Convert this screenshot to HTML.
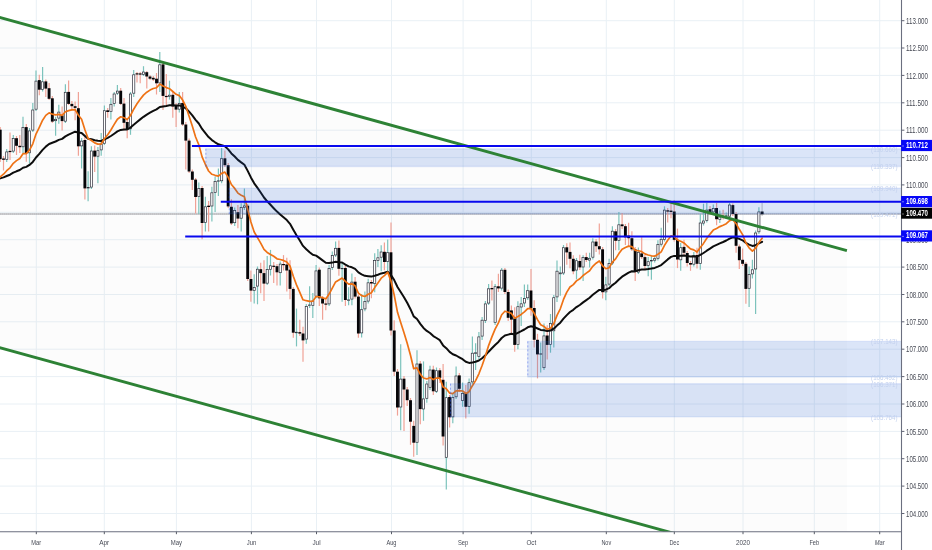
<!DOCTYPE html>
<html><head><meta charset="utf-8"><title>USDJPY chart</title>
<style>html,body{margin:0;padding:0;background:#fff;overflow:hidden}svg{display:block;will-change:transform}</style></head>
<body>
<svg width="932" height="550" viewBox="0 0 932 550" font-family="'Liberation Sans', sans-serif">
<rect width="932" height="550" fill="#fff"/>
<defs><clipPath id="pane"><rect x="0" y="0" width="901.5" height="531.7"/></clipPath></defs>
<g clip-path="url(#pane)">
<g stroke="#e9f0f5" stroke-width="1" shape-rendering="auto">
<line x1="0" y1="20.7" x2="901.5" y2="20.7"/>
<line x1="0" y1="48.0" x2="901.5" y2="48.0"/>
<line x1="0" y1="75.4" x2="901.5" y2="75.4"/>
<line x1="0" y1="102.8" x2="901.5" y2="102.8"/>
<line x1="0" y1="130.2" x2="901.5" y2="130.2"/>
<line x1="0" y1="157.6" x2="901.5" y2="157.6"/>
<line x1="0" y1="184.9" x2="901.5" y2="184.9"/>
<line x1="0" y1="212.3" x2="901.5" y2="212.3"/>
<line x1="0" y1="239.7" x2="901.5" y2="239.7"/>
<line x1="0" y1="267.1" x2="901.5" y2="267.1"/>
<line x1="0" y1="294.5" x2="901.5" y2="294.5"/>
<line x1="0" y1="321.8" x2="901.5" y2="321.8"/>
<line x1="0" y1="349.2" x2="901.5" y2="349.2"/>
<line x1="0" y1="376.6" x2="901.5" y2="376.6"/>
<line x1="0" y1="404.0" x2="901.5" y2="404.0"/>
<line x1="0" y1="431.4" x2="901.5" y2="431.4"/>
<line x1="0" y1="458.7" x2="901.5" y2="458.7"/>
<line x1="0" y1="486.1" x2="901.5" y2="486.1"/>
<line x1="0" y1="513.5" x2="901.5" y2="513.5"/>
<line x1="36.3" y1="0" x2="36.3" y2="531.7"/>
<line x1="104.3" y1="0" x2="104.3" y2="531.7"/>
<line x1="176.4" y1="0" x2="176.4" y2="531.7"/>
<line x1="251.4" y1="0" x2="251.4" y2="531.7"/>
<line x1="316.5" y1="0" x2="316.5" y2="531.7"/>
<line x1="391.5" y1="0" x2="391.5" y2="531.7"/>
<line x1="463.1" y1="0" x2="463.1" y2="531.7"/>
<line x1="531.3" y1="0" x2="531.3" y2="531.7"/>
<line x1="606.3" y1="0" x2="606.3" y2="531.7"/>
<line x1="674.3" y1="0" x2="674.3" y2="531.7"/>
<line x1="743.0" y1="0" x2="743.0" y2="531.7"/>
<line x1="814.3" y1="0" x2="814.3" y2="531.7"/>
<line x1="879.7" y1="0" x2="879.7" y2="531.7"/>
</g>
<polygon points="0,17.4 846.9,250.7 846.9,581.0 0,347.7" fill="rgba(120,120,120,0.024)"/>
<line x1="0" y1="214.0" x2="901.5" y2="214.0" stroke="#bdbdc1" stroke-width="1.6"/>
<line x1="0" y1="214.0" x2="901.5" y2="214.0" stroke="#9a9a9e" stroke-width="1.2" stroke-dasharray="1 1" opacity="0.35"/>
<g><line x1="0.2" y1="127.0" x2="0.2" y2="162.0" stroke="#f0a296" stroke-width="1.2"/><rect x="-1.22" y="129.7" width="2.9" height="29.5" fill="#050508"/><line x1="3.5" y1="156.0" x2="3.5" y2="170.5" stroke="#f0a296" stroke-width="1.2"/><rect x="2.04" y="158.5" width="2.9" height="1.3" fill="#050508"/><line x1="6.7" y1="149.0" x2="6.7" y2="162.0" stroke="#7cc3bc" stroke-width="1.2"/><rect x="5.67" y="151.9" width="2.16" height="7.7" fill="#fff" stroke="#2e2e3a" stroke-width="0.7"/><line x1="10.0" y1="132.6" x2="10.0" y2="160.0" stroke="#f0a296" stroke-width="1.2"/><rect x="8.55" y="150.9" width="2.9" height="1.2" fill="#050508"/><line x1="13.3" y1="135.0" x2="13.3" y2="153.0" stroke="#7cc3bc" stroke-width="1.2"/><rect x="12.18" y="138.6" width="2.16" height="12.5" fill="#fff" stroke="#2e2e3a" stroke-width="0.7"/><line x1="16.5" y1="136.0" x2="16.5" y2="155.0" stroke="#f0a296" stroke-width="1.2"/><rect x="15.06" y="138.2" width="2.9" height="7.6" fill="#050508"/><line x1="19.8" y1="135.0" x2="19.8" y2="153.0" stroke="#f0a296" stroke-width="1.2"/><rect x="18.32" y="145.8" width="2.9" height="1.4" fill="#050508"/><line x1="23.0" y1="116.8" x2="23.0" y2="153.2" stroke="#7cc3bc" stroke-width="1.2"/><rect x="21.95" y="127.5" width="2.16" height="19.3" fill="#fff" stroke="#2e2e3a" stroke-width="0.7"/><line x1="26.3" y1="124.0" x2="26.3" y2="161.8" stroke="#f0a296" stroke-width="1.2"/><rect x="24.83" y="127.1" width="2.9" height="26.1" fill="#050508"/><line x1="29.5" y1="128.0" x2="29.5" y2="163.5" stroke="#7cc3bc" stroke-width="1.2"/><rect x="28.46" y="130.9" width="2.16" height="21.9" fill="#fff" stroke="#2e2e3a" stroke-width="0.7"/><line x1="32.8" y1="103.1" x2="32.8" y2="132.0" stroke="#7cc3bc" stroke-width="1.2"/><rect x="31.71" y="110.0" width="2.16" height="20.1" fill="#fff" stroke="#2e2e3a" stroke-width="0.7"/><line x1="36.0" y1="70.5" x2="36.0" y2="111.0" stroke="#7cc3bc" stroke-width="1.2"/><rect x="34.97" y="81.1" width="2.16" height="28.1" fill="#fff" stroke="#2e2e3a" stroke-width="0.7"/><line x1="39.3" y1="74.7" x2="39.3" y2="95.3" stroke="#f0a296" stroke-width="1.2"/><rect x="37.86" y="80.1" width="2.9" height="9.6" fill="#050508"/><line x1="42.6" y1="67.0" x2="42.6" y2="91.5" stroke="#7cc3bc" stroke-width="1.2"/><rect x="41.48" y="81.8" width="2.16" height="7.7" fill="#fff" stroke="#2e2e3a" stroke-width="0.7"/><line x1="45.8" y1="79.4" x2="45.8" y2="97.0" stroke="#f0a296" stroke-width="1.2"/><rect x="44.37" y="81.4" width="2.9" height="7.2" fill="#050508"/><line x1="49.1" y1="82.9" x2="49.1" y2="100.0" stroke="#f0a296" stroke-width="1.2"/><rect x="47.62" y="88.2" width="2.9" height="10.6" fill="#050508"/><line x1="52.3" y1="96.0" x2="52.3" y2="123.0" stroke="#f0a296" stroke-width="1.2"/><rect x="50.88" y="98.3" width="2.9" height="23.3" fill="#050508"/><line x1="55.6" y1="116.8" x2="55.6" y2="135.7" stroke="#7cc3bc" stroke-width="1.2"/><rect x="54.51" y="119.3" width="2.16" height="1.4" fill="#fff" stroke="#2e2e3a" stroke-width="0.7"/><line x1="58.8" y1="104.8" x2="58.8" y2="123.7" stroke="#7cc3bc" stroke-width="1.2"/><rect x="57.76" y="112.1" width="2.16" height="6.0" fill="#fff" stroke="#2e2e3a" stroke-width="0.7"/><line x1="62.1" y1="106.5" x2="62.1" y2="130.5" stroke="#f0a296" stroke-width="1.2"/><rect x="60.65" y="115.4" width="2.9" height="5.7" fill="#050508"/><line x1="65.4" y1="84.2" x2="65.4" y2="123.0" stroke="#7cc3bc" stroke-width="1.2"/><rect x="64.27" y="92.3" width="2.16" height="28.9" fill="#fff" stroke="#2e2e3a" stroke-width="0.7"/><line x1="68.6" y1="80.4" x2="68.6" y2="105.0" stroke="#f0a296" stroke-width="1.2"/><rect x="67.16" y="91.9" width="2.9" height="12.0" fill="#050508"/><line x1="71.9" y1="101.0" x2="71.9" y2="110.0" stroke="#f0a296" stroke-width="1.2"/><rect x="70.42" y="103.9" width="2.9" height="2.3" fill="#050508"/><line x1="75.1" y1="101.4" x2="75.1" y2="120.2" stroke="#f0a296" stroke-width="1.2"/><rect x="73.67" y="106.2" width="2.9" height="1.7" fill="#050508"/><line x1="78.4" y1="91.9" x2="78.4" y2="155.8" stroke="#f0a296" stroke-width="1.2"/><rect x="76.93" y="108.2" width="2.9" height="38.1" fill="#050508"/><line x1="81.6" y1="138.0" x2="81.6" y2="168.6" stroke="#7cc3bc" stroke-width="1.2"/><rect x="80.55" y="141.1" width="2.16" height="4.8" fill="#fff" stroke="#2e2e3a" stroke-width="0.7"/><line x1="84.9" y1="137.0" x2="84.9" y2="199.5" stroke="#f0a296" stroke-width="1.2"/><rect x="83.44" y="140.0" width="2.9" height="48.4" fill="#050508"/><line x1="88.1" y1="171.2" x2="88.1" y2="201.2" stroke="#7cc3bc" stroke-width="1.2"/><rect x="87.07" y="187.4" width="2.16" height="0.6" fill="#fff" stroke="#2e2e3a" stroke-width="0.7"/><line x1="91.4" y1="146.3" x2="91.4" y2="189.0" stroke="#7cc3bc" stroke-width="1.2"/><rect x="90.32" y="151.0" width="2.16" height="36.1" fill="#fff" stroke="#2e2e3a" stroke-width="0.7"/><line x1="94.7" y1="145.5" x2="94.7" y2="172.0" stroke="#f0a296" stroke-width="1.2"/><rect x="93.21" y="150.6" width="2.9" height="6.0" fill="#050508"/><line x1="97.9" y1="147.0" x2="97.9" y2="183.2" stroke="#7cc3bc" stroke-width="1.2"/><rect x="96.83" y="150.7" width="2.16" height="5.5" fill="#fff" stroke="#2e2e3a" stroke-width="0.7"/><line x1="101.2" y1="133.1" x2="101.2" y2="155.8" stroke="#7cc3bc" stroke-width="1.2"/><rect x="100.09" y="144.1" width="2.16" height="5.8" fill="#fff" stroke="#2e2e3a" stroke-width="0.7"/><line x1="104.4" y1="105.6" x2="104.4" y2="145.0" stroke="#7cc3bc" stroke-width="1.2"/><rect x="103.35" y="110.7" width="2.16" height="32.6" fill="#fff" stroke="#2e2e3a" stroke-width="0.7"/><line x1="107.7" y1="108.0" x2="107.7" y2="117.7" stroke="#f0a296" stroke-width="1.2"/><rect x="106.23" y="110.3" width="2.9" height="1.7" fill="#050508"/><line x1="110.9" y1="97.9" x2="110.9" y2="119.4" stroke="#7cc3bc" stroke-width="1.2"/><rect x="109.86" y="104.3" width="2.16" height="7.3" fill="#fff" stroke="#2e2e3a" stroke-width="0.7"/><line x1="114.2" y1="92.0" x2="114.2" y2="106.5" stroke="#7cc3bc" stroke-width="1.2"/><rect x="113.11" y="94.0" width="2.16" height="9.5" fill="#fff" stroke="#2e2e3a" stroke-width="0.7"/><line x1="117.4" y1="85.0" x2="117.4" y2="95.0" stroke="#7cc3bc" stroke-width="1.2"/><rect x="116.37" y="91.1" width="2.16" height="2.1" fill="#fff" stroke="#2e2e3a" stroke-width="0.7"/><line x1="120.7" y1="88.0" x2="120.7" y2="105.0" stroke="#f0a296" stroke-width="1.2"/><rect x="119.26" y="90.7" width="2.9" height="13.2" fill="#050508"/><line x1="124.0" y1="97.9" x2="124.0" y2="130.5" stroke="#f0a296" stroke-width="1.2"/><rect x="122.51" y="103.6" width="2.9" height="19.2" fill="#050508"/><line x1="127.2" y1="120.0" x2="127.2" y2="138.3" stroke="#f0a296" stroke-width="1.2"/><rect x="125.77" y="122.0" width="2.9" height="7.2" fill="#050508"/><line x1="130.5" y1="92.0" x2="130.5" y2="134.8" stroke="#7cc3bc" stroke-width="1.2"/><rect x="129.39" y="94.0" width="2.16" height="34.8" fill="#fff" stroke="#2e2e3a" stroke-width="0.7"/><line x1="133.7" y1="70.1" x2="133.7" y2="97.1" stroke="#7cc3bc" stroke-width="1.2"/><rect x="132.65" y="74.8" width="2.16" height="18.4" fill="#fff" stroke="#2e2e3a" stroke-width="0.7"/><line x1="137.0" y1="72.0" x2="137.0" y2="82.5" stroke="#f0a296" stroke-width="1.2"/><rect x="135.54" y="73.3" width="2.9" height="1.2" fill="#050508"/><line x1="140.2" y1="72.0" x2="140.2" y2="83.3" stroke="#f0a296" stroke-width="1.2"/><rect x="138.79" y="73.4" width="2.9" height="1.2" fill="#050508"/><line x1="143.5" y1="66.2" x2="143.5" y2="76.0" stroke="#7cc3bc" stroke-width="1.2"/><rect x="142.42" y="72.0" width="2.16" height="2.4" fill="#fff" stroke="#2e2e3a" stroke-width="0.7"/><line x1="146.8" y1="71.0" x2="146.8" y2="88.5" stroke="#f0a296" stroke-width="1.2"/><rect x="145.30" y="72.2" width="2.9" height="4.3" fill="#050508"/><line x1="150.0" y1="75.0" x2="150.0" y2="80.0" stroke="#f0a296" stroke-width="1.2"/><rect x="148.56" y="76.5" width="2.9" height="2.2" fill="#050508"/><line x1="153.3" y1="76.0" x2="153.3" y2="81.0" stroke="#f0a296" stroke-width="1.2"/><rect x="151.82" y="77.8" width="2.9" height="1.7" fill="#050508"/><line x1="156.5" y1="73.0" x2="156.5" y2="94.5" stroke="#f0a296" stroke-width="1.2"/><rect x="155.07" y="78.7" width="2.9" height="4.6" fill="#050508"/><line x1="159.8" y1="52.0" x2="159.8" y2="91.9" stroke="#7cc3bc" stroke-width="1.2"/><rect x="158.70" y="64.8" width="2.16" height="18.1" fill="#fff" stroke="#2e2e3a" stroke-width="0.7"/><line x1="163.0" y1="62.0" x2="163.0" y2="110.0" stroke="#f0a296" stroke-width="1.2"/><rect x="161.58" y="64.4" width="2.9" height="31.5" fill="#050508"/><line x1="166.3" y1="73.9" x2="166.3" y2="106.5" stroke="#f0a296" stroke-width="1.2"/><rect x="164.84" y="95.9" width="2.9" height="1.2" fill="#050508"/><line x1="169.5" y1="80.7" x2="169.5" y2="99.6" stroke="#7cc3bc" stroke-width="1.2"/><rect x="168.47" y="95.2" width="2.16" height="1.4" fill="#fff" stroke="#2e2e3a" stroke-width="0.7"/><line x1="172.8" y1="92.0" x2="172.8" y2="117.7" stroke="#f0a296" stroke-width="1.2"/><rect x="171.35" y="94.8" width="2.9" height="11.7" fill="#050508"/><line x1="176.1" y1="103.0" x2="176.1" y2="127.1" stroke="#f0a296" stroke-width="1.2"/><rect x="174.61" y="105.6" width="2.9" height="4.0" fill="#050508"/><line x1="179.3" y1="91.9" x2="179.3" y2="112.5" stroke="#7cc3bc" stroke-width="1.2"/><rect x="178.23" y="103.4" width="2.16" height="5.8" fill="#fff" stroke="#2e2e3a" stroke-width="0.7"/><line x1="182.6" y1="91.9" x2="182.6" y2="126.0" stroke="#f0a296" stroke-width="1.2"/><rect x="181.12" y="103.0" width="2.9" height="21.5" fill="#050508"/><line x1="185.8" y1="122.0" x2="185.8" y2="169.5" stroke="#f0a296" stroke-width="1.2"/><rect x="184.38" y="124.5" width="2.9" height="16.1" fill="#050508"/><line x1="189.1" y1="138.5" x2="189.1" y2="173.0" stroke="#f0a296" stroke-width="1.2"/><rect x="187.63" y="140.6" width="2.9" height="30.9" fill="#050508"/><line x1="192.3" y1="169.5" x2="192.3" y2="190.0" stroke="#f0a296" stroke-width="1.2"/><rect x="190.89" y="171.5" width="2.9" height="8.3" fill="#050508"/><line x1="195.6" y1="178.0" x2="195.6" y2="213.5" stroke="#f0a296" stroke-width="1.2"/><rect x="194.14" y="179.6" width="2.9" height="17.4" fill="#050508"/><line x1="198.8" y1="182.5" x2="198.8" y2="214.0" stroke="#7cc3bc" stroke-width="1.2"/><rect x="197.77" y="188.4" width="2.16" height="8.2" fill="#fff" stroke="#2e2e3a" stroke-width="0.7"/><line x1="202.1" y1="186.0" x2="202.1" y2="239.2" stroke="#f0a296" stroke-width="1.2"/><rect x="200.66" y="188.0" width="2.9" height="35.0" fill="#050508"/><line x1="205.4" y1="196.8" x2="205.4" y2="231.5" stroke="#7cc3bc" stroke-width="1.2"/><rect x="204.28" y="206.8" width="2.16" height="15.8" fill="#fff" stroke="#2e2e3a" stroke-width="0.7"/><line x1="208.6" y1="201.0" x2="208.6" y2="231.5" stroke="#f0a296" stroke-width="1.2"/><rect x="207.17" y="205.7" width="2.9" height="1.3" fill="#050508"/><line x1="211.9" y1="186.8" x2="211.9" y2="221.5" stroke="#7cc3bc" stroke-width="1.2"/><rect x="210.79" y="192.8" width="2.16" height="13.2" fill="#fff" stroke="#2e2e3a" stroke-width="0.7"/><line x1="215.1" y1="176.4" x2="215.1" y2="212.0" stroke="#7cc3bc" stroke-width="1.2"/><rect x="214.05" y="181.4" width="2.16" height="11.2" fill="#fff" stroke="#2e2e3a" stroke-width="0.7"/><line x1="218.4" y1="168.6" x2="218.4" y2="196.0" stroke="#7cc3bc" stroke-width="1.2"/><rect x="217.31" y="180.8" width="2.16" height="0.4" fill="#fff" stroke="#2e2e3a" stroke-width="0.7"/><line x1="221.6" y1="148.0" x2="221.6" y2="183.2" stroke="#7cc3bc" stroke-width="1.2"/><rect x="220.56" y="158.7" width="2.16" height="22.1" fill="#fff" stroke="#2e2e3a" stroke-width="0.7"/><line x1="224.9" y1="150.6" x2="224.9" y2="167.0" stroke="#f0a296" stroke-width="1.2"/><rect x="223.45" y="158.3" width="2.9" height="6.9" fill="#050508"/><line x1="228.2" y1="163.0" x2="228.2" y2="208.0" stroke="#f0a296" stroke-width="1.2"/><rect x="226.70" y="165.2" width="2.9" height="41.2" fill="#050508"/><line x1="231.4" y1="199.3" x2="231.4" y2="225.0" stroke="#f0a296" stroke-width="1.2"/><rect x="229.96" y="206.8" width="2.9" height="16.6" fill="#050508"/><line x1="234.7" y1="207.5" x2="234.7" y2="226.0" stroke="#7cc3bc" stroke-width="1.2"/><rect x="233.59" y="210.6" width="2.16" height="12.1" fill="#fff" stroke="#2e2e3a" stroke-width="0.7"/><line x1="237.9" y1="205.0" x2="237.9" y2="228.3" stroke="#f0a296" stroke-width="1.2"/><rect x="236.47" y="212.2" width="2.9" height="6.4" fill="#050508"/><line x1="241.2" y1="203.2" x2="241.2" y2="231.5" stroke="#7cc3bc" stroke-width="1.2"/><rect x="240.10" y="207.4" width="2.16" height="10.8" fill="#fff" stroke="#2e2e3a" stroke-width="0.7"/><line x1="244.4" y1="188.4" x2="244.4" y2="210.0" stroke="#7cc3bc" stroke-width="1.2"/><rect x="243.35" y="205.9" width="2.16" height="1.4" fill="#fff" stroke="#2e2e3a" stroke-width="0.7"/><line x1="247.7" y1="204.0" x2="247.7" y2="281.0" stroke="#f0a296" stroke-width="1.2"/><rect x="246.24" y="205.7" width="2.9" height="73.3" fill="#050508"/><line x1="250.9" y1="270.5" x2="250.9" y2="301.8" stroke="#f0a296" stroke-width="1.2"/><rect x="249.50" y="279.0" width="2.9" height="11.6" fill="#050508"/><line x1="254.2" y1="274.3" x2="254.2" y2="303.5" stroke="#7cc3bc" stroke-width="1.2"/><rect x="253.12" y="287.6" width="2.16" height="2.9" fill="#fff" stroke="#2e2e3a" stroke-width="0.7"/><line x1="257.5" y1="266.5" x2="257.5" y2="304.3" stroke="#7cc3bc" stroke-width="1.2"/><rect x="256.38" y="269.2" width="2.16" height="16.9" fill="#fff" stroke="#2e2e3a" stroke-width="0.7"/><line x1="260.7" y1="262.8" x2="260.7" y2="293.2" stroke="#f0a296" stroke-width="1.2"/><rect x="259.26" y="269.2" width="2.9" height="3.9" fill="#050508"/><line x1="264.0" y1="260.2" x2="264.0" y2="300.9" stroke="#f0a296" stroke-width="1.2"/><rect x="262.52" y="273.1" width="2.9" height="10.5" fill="#050508"/><line x1="267.2" y1="255.9" x2="267.2" y2="285.0" stroke="#7cc3bc" stroke-width="1.2"/><rect x="266.15" y="269.6" width="2.16" height="13.6" fill="#fff" stroke="#2e2e3a" stroke-width="0.7"/><line x1="270.5" y1="249.9" x2="270.5" y2="275.5" stroke="#7cc3bc" stroke-width="1.2"/><rect x="269.40" y="265.8" width="2.16" height="3.5" fill="#fff" stroke="#2e2e3a" stroke-width="0.7"/><line x1="273.7" y1="262.0" x2="273.7" y2="282.9" stroke="#f0a296" stroke-width="1.2"/><rect x="272.29" y="265.7" width="2.9" height="1.2" fill="#050508"/><line x1="277.0" y1="264.0" x2="277.0" y2="285.5" stroke="#f0a296" stroke-width="1.2"/><rect x="275.54" y="266.2" width="2.9" height="6.1" fill="#050508"/><line x1="280.2" y1="261.5" x2="280.2" y2="285.5" stroke="#7cc3bc" stroke-width="1.2"/><rect x="279.17" y="264.1" width="2.16" height="8.6" fill="#fff" stroke="#2e2e3a" stroke-width="0.7"/><line x1="283.5" y1="255.1" x2="283.5" y2="270.5" stroke="#f0a296" stroke-width="1.2"/><rect x="282.06" y="264.0" width="2.9" height="1.2" fill="#050508"/><line x1="286.8" y1="257.7" x2="286.8" y2="291.5" stroke="#f0a296" stroke-width="1.2"/><rect x="285.31" y="264.5" width="2.9" height="6.0" fill="#050508"/><line x1="290.0" y1="260.2" x2="290.0" y2="299.2" stroke="#f0a296" stroke-width="1.2"/><rect x="288.57" y="269.7" width="2.9" height="19.2" fill="#050508"/><line x1="293.3" y1="287.0" x2="293.3" y2="337.8" stroke="#f0a296" stroke-width="1.2"/><rect x="291.82" y="288.9" width="2.9" height="43.8" fill="#050508"/><line x1="296.5" y1="308.6" x2="296.5" y2="346.4" stroke="#7cc3bc" stroke-width="1.2"/><rect x="295.45" y="332.2" width="2.16" height="0.6" fill="#fff" stroke="#2e2e3a" stroke-width="0.7"/><line x1="299.8" y1="319.8" x2="299.8" y2="336.0" stroke="#f0a296" stroke-width="1.2"/><rect x="298.34" y="332.1" width="2.9" height="1.5" fill="#050508"/><line x1="303.0" y1="326.7" x2="303.0" y2="361.8" stroke="#f0a296" stroke-width="1.2"/><rect x="301.59" y="333.5" width="2.9" height="6.9" fill="#050508"/><line x1="306.3" y1="304.0" x2="306.3" y2="343.8" stroke="#7cc3bc" stroke-width="1.2"/><rect x="305.22" y="306.4" width="2.16" height="32.7" fill="#fff" stroke="#2e2e3a" stroke-width="0.7"/><line x1="309.6" y1="286.3" x2="309.6" y2="308.0" stroke="#7cc3bc" stroke-width="1.2"/><rect x="308.47" y="305.0" width="2.16" height="0.6" fill="#fff" stroke="#2e2e3a" stroke-width="0.7"/><line x1="312.8" y1="293.0" x2="312.8" y2="318.1" stroke="#7cc3bc" stroke-width="1.2"/><rect x="311.73" y="301.0" width="2.16" height="4.6" fill="#fff" stroke="#2e2e3a" stroke-width="0.7"/><line x1="316.1" y1="265.0" x2="316.1" y2="298.0" stroke="#7cc3bc" stroke-width="1.2"/><rect x="314.99" y="270.9" width="2.16" height="25.3" fill="#fff" stroke="#2e2e3a" stroke-width="0.7"/><line x1="319.3" y1="267.5" x2="319.3" y2="306.0" stroke="#f0a296" stroke-width="1.2"/><rect x="317.87" y="269.7" width="2.9" height="28.6" fill="#050508"/><line x1="322.6" y1="296.0" x2="322.6" y2="319.8" stroke="#f0a296" stroke-width="1.2"/><rect x="321.13" y="298.3" width="2.9" height="5.2" fill="#050508"/><line x1="325.8" y1="300.0" x2="325.8" y2="310.3" stroke="#f0a296" stroke-width="1.2"/><rect x="324.38" y="303.5" width="2.9" height="1.2" fill="#050508"/><line x1="329.1" y1="265.0" x2="329.1" y2="306.0" stroke="#7cc3bc" stroke-width="1.2"/><rect x="328.01" y="268.4" width="2.16" height="35.5" fill="#fff" stroke="#2e2e3a" stroke-width="0.7"/><line x1="332.3" y1="251.5" x2="332.3" y2="270.0" stroke="#7cc3bc" stroke-width="1.2"/><rect x="331.27" y="255.5" width="2.16" height="12.1" fill="#fff" stroke="#2e2e3a" stroke-width="0.7"/><line x1="335.6" y1="241.4" x2="335.6" y2="257.0" stroke="#7cc3bc" stroke-width="1.2"/><rect x="334.52" y="248.3" width="2.16" height="6.7" fill="#fff" stroke="#2e2e3a" stroke-width="0.7"/><line x1="338.9" y1="240.5" x2="338.9" y2="275.7" stroke="#f0a296" stroke-width="1.2"/><rect x="337.41" y="247.9" width="2.9" height="20.9" fill="#050508"/><line x1="342.1" y1="262.0" x2="342.1" y2="301.8" stroke="#7cc3bc" stroke-width="1.2"/><rect x="341.03" y="268.4" width="2.16" height="0.4" fill="#fff" stroke="#2e2e3a" stroke-width="0.7"/><line x1="345.4" y1="266.0" x2="345.4" y2="306.0" stroke="#f0a296" stroke-width="1.2"/><rect x="343.92" y="268.0" width="2.9" height="32.0" fill="#050508"/><line x1="348.6" y1="287.2" x2="348.6" y2="305.2" stroke="#7cc3bc" stroke-width="1.2"/><rect x="347.55" y="299.9" width="2.16" height="0.4" fill="#fff" stroke="#2e2e3a" stroke-width="0.7"/><line x1="351.9" y1="273.4" x2="351.9" y2="305.2" stroke="#7cc3bc" stroke-width="1.2"/><rect x="350.80" y="282.1" width="2.16" height="17.0" fill="#fff" stroke="#2e2e3a" stroke-width="0.7"/><line x1="355.1" y1="276.9" x2="355.1" y2="298.5" stroke="#f0a296" stroke-width="1.2"/><rect x="353.69" y="281.7" width="2.9" height="14.9" fill="#050508"/><line x1="358.4" y1="294.5" x2="358.4" y2="337.8" stroke="#f0a296" stroke-width="1.2"/><rect x="356.94" y="296.6" width="2.9" height="36.9" fill="#050508"/><line x1="361.6" y1="294.0" x2="361.6" y2="337.6" stroke="#7cc3bc" stroke-width="1.2"/><rect x="360.57" y="309.7" width="2.16" height="23.2" fill="#fff" stroke="#2e2e3a" stroke-width="0.7"/><line x1="364.9" y1="291.5" x2="364.9" y2="311.2" stroke="#7cc3bc" stroke-width="1.2"/><rect x="363.83" y="301.6" width="2.16" height="7.3" fill="#fff" stroke="#2e2e3a" stroke-width="0.7"/><line x1="368.2" y1="278.8" x2="368.2" y2="303.5" stroke="#7cc3bc" stroke-width="1.2"/><rect x="367.08" y="282.8" width="2.16" height="18.3" fill="#fff" stroke="#2e2e3a" stroke-width="0.7"/><line x1="371.4" y1="280.0" x2="371.4" y2="298.3" stroke="#f0a296" stroke-width="1.2"/><rect x="369.97" y="282.0" width="2.9" height="1.5" fill="#050508"/><line x1="374.7" y1="253.3" x2="374.7" y2="292.3" stroke="#7cc3bc" stroke-width="1.2"/><rect x="373.59" y="260.5" width="2.16" height="23.0" fill="#fff" stroke="#2e2e3a" stroke-width="0.7"/><line x1="377.9" y1="249.0" x2="377.9" y2="267.1" stroke="#7cc3bc" stroke-width="1.2"/><rect x="376.85" y="257.8" width="2.16" height="2.6" fill="#fff" stroke="#2e2e3a" stroke-width="0.7"/><line x1="381.2" y1="245.2" x2="381.2" y2="271.2" stroke="#7cc3bc" stroke-width="1.2"/><rect x="380.11" y="252.0" width="2.16" height="5.2" fill="#fff" stroke="#2e2e3a" stroke-width="0.7"/><line x1="384.4" y1="242.5" x2="384.4" y2="270.3" stroke="#f0a296" stroke-width="1.2"/><rect x="382.99" y="251.8" width="2.9" height="10.2" fill="#050508"/><line x1="387.7" y1="239.5" x2="387.7" y2="271.2" stroke="#7cc3bc" stroke-width="1.2"/><rect x="386.62" y="252.7" width="2.16" height="8.7" fill="#fff" stroke="#2e2e3a" stroke-width="0.7"/><line x1="391.0" y1="222.5" x2="391.0" y2="335.6" stroke="#f0a296" stroke-width="1.2"/><rect x="389.50" y="252.3" width="2.9" height="78.2" fill="#050508"/><line x1="394.2" y1="320.2" x2="394.2" y2="376.0" stroke="#f0a296" stroke-width="1.2"/><rect x="392.76" y="330.5" width="2.9" height="41.2" fill="#050508"/><line x1="397.5" y1="369.0" x2="397.5" y2="415.6" stroke="#f0a296" stroke-width="1.2"/><rect x="396.02" y="371.7" width="2.9" height="35.8" fill="#050508"/><line x1="400.7" y1="344.2" x2="400.7" y2="430.2" stroke="#7cc3bc" stroke-width="1.2"/><rect x="399.64" y="379.1" width="2.16" height="27.9" fill="#fff" stroke="#2e2e3a" stroke-width="0.7"/><line x1="404.0" y1="376.0" x2="404.0" y2="431.0" stroke="#f0a296" stroke-width="1.2"/><rect x="402.53" y="378.7" width="2.9" height="10.8" fill="#050508"/><line x1="407.2" y1="387.0" x2="407.2" y2="406.0" stroke="#f0a296" stroke-width="1.2"/><rect x="405.78" y="389.5" width="2.9" height="10.7" fill="#050508"/><line x1="410.5" y1="398.0" x2="410.5" y2="444.8" stroke="#f0a296" stroke-width="1.2"/><rect x="409.04" y="400.2" width="2.9" height="21.5" fill="#050508"/><line x1="413.7" y1="420.8" x2="413.7" y2="456.8" stroke="#f0a296" stroke-width="1.2"/><rect x="412.30" y="425.9" width="2.9" height="16.8" fill="#050508"/><line x1="417.0" y1="350.2" x2="417.0" y2="455.1" stroke="#7cc3bc" stroke-width="1.2"/><rect x="415.92" y="364.0" width="2.16" height="78.3" fill="#fff" stroke="#2e2e3a" stroke-width="0.7"/><line x1="420.3" y1="361.0" x2="420.3" y2="424.2" stroke="#f0a296" stroke-width="1.2"/><rect x="418.81" y="363.6" width="2.9" height="45.5" fill="#050508"/><line x1="423.5" y1="361.4" x2="423.5" y2="420.8" stroke="#7cc3bc" stroke-width="1.2"/><rect x="422.43" y="398.9" width="2.16" height="10.1" fill="#fff" stroke="#2e2e3a" stroke-width="0.7"/><line x1="426.8" y1="381.0" x2="426.8" y2="402.7" stroke="#7cc3bc" stroke-width="1.2"/><rect x="425.69" y="384.0" width="2.16" height="14.3" fill="#fff" stroke="#2e2e3a" stroke-width="0.7"/><line x1="430.0" y1="365.7" x2="430.0" y2="390.0" stroke="#7cc3bc" stroke-width="1.2"/><rect x="428.95" y="370.0" width="2.16" height="17.6" fill="#fff" stroke="#2e2e3a" stroke-width="0.7"/><line x1="433.3" y1="365.7" x2="433.3" y2="395.0" stroke="#f0a296" stroke-width="1.2"/><rect x="431.83" y="369.6" width="2.9" height="21.7" fill="#050508"/><line x1="436.5" y1="367.5" x2="436.5" y2="393.0" stroke="#7cc3bc" stroke-width="1.2"/><rect x="435.46" y="370.7" width="2.16" height="20.6" fill="#fff" stroke="#2e2e3a" stroke-width="0.7"/><line x1="439.8" y1="368.0" x2="439.8" y2="383.0" stroke="#f0a296" stroke-width="1.2"/><rect x="438.34" y="370.3" width="2.9" height="7.6" fill="#050508"/><line x1="443.1" y1="363.9" x2="443.1" y2="445.6" stroke="#f0a296" stroke-width="1.2"/><rect x="441.60" y="379.8" width="2.9" height="56.7" fill="#050508"/><line x1="446.3" y1="381.7" x2="446.3" y2="489.5" stroke="#7cc3bc" stroke-width="1.2"/><rect x="445.23" y="397.7" width="2.16" height="59.6" fill="#fff" stroke="#2e2e3a" stroke-width="0.7"/><line x1="449.6" y1="395.0" x2="449.6" y2="427.6" stroke="#f0a296" stroke-width="1.2"/><rect x="448.11" y="397.0" width="2.9" height="20.3" fill="#050508"/><line x1="452.8" y1="394.0" x2="452.8" y2="423.3" stroke="#7cc3bc" stroke-width="1.2"/><rect x="451.74" y="397.4" width="2.16" height="19.5" fill="#fff" stroke="#2e2e3a" stroke-width="0.7"/><line x1="456.1" y1="366.5" x2="456.1" y2="399.0" stroke="#7cc3bc" stroke-width="1.2"/><rect x="454.99" y="376.0" width="2.16" height="20.8" fill="#fff" stroke="#2e2e3a" stroke-width="0.7"/><line x1="459.3" y1="373.0" x2="459.3" y2="392.0" stroke="#f0a296" stroke-width="1.2"/><rect x="457.88" y="375.4" width="2.9" height="13.4" fill="#050508"/><line x1="462.6" y1="382.4" x2="462.6" y2="406.8" stroke="#7cc3bc" stroke-width="1.2"/><rect x="461.51" y="393.5" width="2.16" height="7.0" fill="#fff" stroke="#2e2e3a" stroke-width="0.7"/><line x1="465.8" y1="384.9" x2="465.8" y2="418.4" stroke="#f0a296" stroke-width="1.2"/><rect x="464.39" y="393.1" width="2.9" height="13.7" fill="#050508"/><line x1="469.1" y1="378.5" x2="469.1" y2="413.7" stroke="#7cc3bc" stroke-width="1.2"/><rect x="468.02" y="382.7" width="2.16" height="23.7" fill="#fff" stroke="#2e2e3a" stroke-width="0.7"/><line x1="472.4" y1="336.5" x2="472.4" y2="384.0" stroke="#7cc3bc" stroke-width="1.2"/><rect x="471.27" y="353.2" width="2.16" height="28.7" fill="#fff" stroke="#2e2e3a" stroke-width="0.7"/><line x1="475.6" y1="343.3" x2="475.6" y2="370.0" stroke="#7cc3bc" stroke-width="1.2"/><rect x="474.53" y="352.8" width="2.16" height="0.5" fill="#fff" stroke="#2e2e3a" stroke-width="0.7"/><line x1="478.9" y1="332.0" x2="478.9" y2="359.0" stroke="#7cc3bc" stroke-width="1.2"/><rect x="477.79" y="336.9" width="2.16" height="19.7" fill="#fff" stroke="#2e2e3a" stroke-width="0.7"/><line x1="482.1" y1="317.0" x2="482.1" y2="340.0" stroke="#7cc3bc" stroke-width="1.2"/><rect x="481.04" y="320.2" width="2.16" height="15.9" fill="#fff" stroke="#2e2e3a" stroke-width="0.7"/><line x1="485.4" y1="301.0" x2="485.4" y2="323.0" stroke="#7cc3bc" stroke-width="1.2"/><rect x="484.30" y="303.9" width="2.16" height="16.7" fill="#fff" stroke="#2e2e3a" stroke-width="0.7"/><line x1="488.6" y1="284.0" x2="488.6" y2="305.0" stroke="#7cc3bc" stroke-width="1.2"/><rect x="487.55" y="288.8" width="2.16" height="14.3" fill="#fff" stroke="#2e2e3a" stroke-width="0.7"/><line x1="491.9" y1="280.6" x2="491.9" y2="300.4" stroke="#f0a296" stroke-width="1.2"/><rect x="490.44" y="288.0" width="2.9" height="1.3" fill="#050508"/><line x1="495.1" y1="284.0" x2="495.1" y2="325.0" stroke="#7cc3bc" stroke-width="1.2"/><rect x="494.07" y="286.7" width="2.16" height="35.6" fill="#fff" stroke="#2e2e3a" stroke-width="0.7"/><line x1="498.4" y1="273.8" x2="498.4" y2="292.0" stroke="#f0a296" stroke-width="1.2"/><rect x="496.95" y="286.3" width="2.9" height="2.1" fill="#050508"/><line x1="501.7" y1="268.0" x2="501.7" y2="290.5" stroke="#7cc3bc" stroke-width="1.2"/><rect x="500.58" y="270.2" width="2.16" height="17.9" fill="#fff" stroke="#2e2e3a" stroke-width="0.7"/><line x1="504.9" y1="268.0" x2="504.9" y2="294.0" stroke="#f0a296" stroke-width="1.2"/><rect x="503.46" y="269.8" width="2.9" height="22.2" fill="#050508"/><line x1="508.2" y1="289.5" x2="508.2" y2="320.9" stroke="#f0a296" stroke-width="1.2"/><rect x="506.72" y="292.0" width="2.9" height="25.8" fill="#050508"/><line x1="511.4" y1="305.5" x2="511.4" y2="332.9" stroke="#f0a296" stroke-width="1.2"/><rect x="509.98" y="310.4" width="2.9" height="9.2" fill="#050508"/><line x1="514.7" y1="307.2" x2="514.7" y2="351.8" stroke="#f0a296" stroke-width="1.2"/><rect x="513.23" y="318.3" width="2.9" height="26.6" fill="#050508"/><line x1="517.9" y1="301.2" x2="517.9" y2="349.2" stroke="#7cc3bc" stroke-width="1.2"/><rect x="516.86" y="306.7" width="2.16" height="37.8" fill="#fff" stroke="#2e2e3a" stroke-width="0.7"/><line x1="521.2" y1="296.9" x2="521.2" y2="326.0" stroke="#7cc3bc" stroke-width="1.2"/><rect x="520.11" y="303.8" width="2.16" height="3.2" fill="#fff" stroke="#2e2e3a" stroke-width="0.7"/><line x1="524.4" y1="284.5" x2="524.4" y2="307.0" stroke="#7cc3bc" stroke-width="1.2"/><rect x="523.37" y="298.6" width="2.16" height="4.4" fill="#fff" stroke="#2e2e3a" stroke-width="0.7"/><line x1="527.7" y1="284.5" x2="527.7" y2="300.0" stroke="#7cc3bc" stroke-width="1.2"/><rect x="526.63" y="290.7" width="2.16" height="7.1" fill="#fff" stroke="#2e2e3a" stroke-width="0.7"/><line x1="531.0" y1="269.1" x2="531.0" y2="315.8" stroke="#f0a296" stroke-width="1.2"/><rect x="529.51" y="290.5" width="2.9" height="17.5" fill="#050508"/><line x1="534.2" y1="300.3" x2="534.2" y2="347.5" stroke="#f0a296" stroke-width="1.2"/><rect x="532.77" y="308.0" width="2.9" height="31.8" fill="#050508"/><line x1="537.5" y1="333.8" x2="537.5" y2="378.4" stroke="#f0a296" stroke-width="1.2"/><rect x="536.02" y="339.8" width="2.9" height="14.6" fill="#050508"/><line x1="540.7" y1="342.4" x2="540.7" y2="372.4" stroke="#7cc3bc" stroke-width="1.2"/><rect x="539.65" y="353.8" width="2.16" height="0.4" fill="#fff" stroke="#2e2e3a" stroke-width="0.7"/><line x1="544.0" y1="323.5" x2="544.0" y2="370.0" stroke="#7cc3bc" stroke-width="1.2"/><rect x="542.91" y="335.9" width="2.16" height="31.8" fill="#fff" stroke="#2e2e3a" stroke-width="0.7"/><line x1="547.2" y1="325.2" x2="547.2" y2="359.5" stroke="#f0a296" stroke-width="1.2"/><rect x="545.79" y="335.5" width="2.9" height="9.4" fill="#050508"/><line x1="550.5" y1="314.0" x2="550.5" y2="352.7" stroke="#7cc3bc" stroke-width="1.2"/><rect x="549.42" y="323.4" width="2.16" height="21.1" fill="#fff" stroke="#2e2e3a" stroke-width="0.7"/><line x1="553.8" y1="295.0" x2="553.8" y2="347.5" stroke="#7cc3bc" stroke-width="1.2"/><rect x="552.67" y="297.7" width="2.16" height="33.1" fill="#fff" stroke="#2e2e3a" stroke-width="0.7"/><line x1="557.0" y1="260.5" x2="557.0" y2="302.0" stroke="#7cc3bc" stroke-width="1.2"/><rect x="555.93" y="271.2" width="2.16" height="25.7" fill="#fff" stroke="#2e2e3a" stroke-width="0.7"/><line x1="560.3" y1="266.5" x2="560.3" y2="295.7" stroke="#7cc3bc" stroke-width="1.2"/><rect x="559.19" y="272.9" width="2.16" height="0.9" fill="#fff" stroke="#2e2e3a" stroke-width="0.7"/><line x1="563.5" y1="245.0" x2="563.5" y2="275.0" stroke="#7cc3bc" stroke-width="1.2"/><rect x="562.44" y="247.7" width="2.16" height="25.3" fill="#fff" stroke="#2e2e3a" stroke-width="0.7"/><line x1="566.8" y1="243.3" x2="566.8" y2="264.8" stroke="#f0a296" stroke-width="1.2"/><rect x="565.33" y="247.3" width="2.9" height="5.1" fill="#050508"/><line x1="570.0" y1="242.5" x2="570.0" y2="268.2" stroke="#f0a296" stroke-width="1.2"/><rect x="568.58" y="251.9" width="2.9" height="6.9" fill="#050508"/><line x1="573.3" y1="255.3" x2="573.3" y2="274.2" stroke="#f0a296" stroke-width="1.2"/><rect x="571.84" y="258.8" width="2.9" height="12.5" fill="#050508"/><line x1="576.5" y1="258.0" x2="576.5" y2="279.4" stroke="#7cc3bc" stroke-width="1.2"/><rect x="575.47" y="260.7" width="2.16" height="9.4" fill="#fff" stroke="#2e2e3a" stroke-width="0.7"/><line x1="579.8" y1="254.8" x2="579.8" y2="270.0" stroke="#f0a296" stroke-width="1.2"/><rect x="578.35" y="261.0" width="2.9" height="6.4" fill="#050508"/><line x1="583.1" y1="255.3" x2="583.1" y2="281.1" stroke="#7cc3bc" stroke-width="1.2"/><rect x="581.98" y="257.5" width="2.16" height="9.5" fill="#fff" stroke="#2e2e3a" stroke-width="0.7"/><line x1="586.3" y1="252.8" x2="586.3" y2="262.0" stroke="#f0a296" stroke-width="1.2"/><rect x="584.86" y="257.1" width="2.9" height="2.9" fill="#050508"/><line x1="589.6" y1="252.8" x2="589.6" y2="267.4" stroke="#7cc3bc" stroke-width="1.2"/><rect x="588.49" y="258.3" width="2.16" height="1.8" fill="#fff" stroke="#2e2e3a" stroke-width="0.7"/><line x1="592.8" y1="238.2" x2="592.8" y2="259.5" stroke="#7cc3bc" stroke-width="1.2"/><rect x="591.75" y="242.0" width="2.16" height="15.2" fill="#fff" stroke="#2e2e3a" stroke-width="0.7"/><line x1="596.1" y1="239.0" x2="596.1" y2="251.9" stroke="#f0a296" stroke-width="1.2"/><rect x="594.63" y="241.6" width="2.9" height="4.6" fill="#050508"/><line x1="599.3" y1="223.6" x2="599.3" y2="254.5" stroke="#f0a296" stroke-width="1.2"/><rect x="597.89" y="246.2" width="2.9" height="3.1" fill="#050508"/><line x1="602.6" y1="247.0" x2="602.6" y2="298.5" stroke="#f0a296" stroke-width="1.2"/><rect x="601.14" y="249.3" width="2.9" height="42.9" fill="#050508"/><line x1="605.8" y1="276.8" x2="605.8" y2="300.2" stroke="#7cc3bc" stroke-width="1.2"/><rect x="604.77" y="284.9" width="2.16" height="7.0" fill="#fff" stroke="#2e2e3a" stroke-width="0.7"/><line x1="609.1" y1="258.8" x2="609.1" y2="286.0" stroke="#7cc3bc" stroke-width="1.2"/><rect x="608.03" y="263.5" width="2.16" height="20.6" fill="#fff" stroke="#2e2e3a" stroke-width="0.7"/><line x1="612.4" y1="226.2" x2="612.4" y2="265.0" stroke="#7cc3bc" stroke-width="1.2"/><rect x="611.28" y="231.2" width="2.16" height="31.8" fill="#fff" stroke="#2e2e3a" stroke-width="0.7"/><line x1="615.6" y1="229.0" x2="615.6" y2="250.2" stroke="#f0a296" stroke-width="1.2"/><rect x="614.17" y="231.3" width="2.9" height="9.5" fill="#050508"/><line x1="618.9" y1="212.0" x2="618.9" y2="250.2" stroke="#7cc3bc" stroke-width="1.2"/><rect x="617.79" y="224.8" width="2.16" height="15.6" fill="#fff" stroke="#2e2e3a" stroke-width="0.7"/><line x1="622.1" y1="213.0" x2="622.1" y2="229.0" stroke="#f0a296" stroke-width="1.2"/><rect x="620.68" y="224.4" width="2.9" height="1.8" fill="#050508"/><line x1="625.4" y1="224.0" x2="625.4" y2="245.0" stroke="#f0a296" stroke-width="1.2"/><rect x="623.94" y="226.2" width="2.9" height="11.1" fill="#050508"/><line x1="628.6" y1="222.7" x2="628.6" y2="246.8" stroke="#f0a296" stroke-width="1.2"/><rect x="627.19" y="235.6" width="2.9" height="2.6" fill="#050508"/><line x1="631.9" y1="231.3" x2="631.9" y2="251.0" stroke="#f0a296" stroke-width="1.2"/><rect x="630.45" y="238.2" width="2.9" height="11.1" fill="#050508"/><line x1="635.2" y1="247.0" x2="635.2" y2="281.1" stroke="#f0a296" stroke-width="1.2"/><rect x="633.70" y="249.3" width="2.9" height="22.4" fill="#050508"/><line x1="638.4" y1="247.6" x2="638.4" y2="274.0" stroke="#7cc3bc" stroke-width="1.2"/><rect x="637.33" y="252.3" width="2.16" height="19.8" fill="#fff" stroke="#2e2e3a" stroke-width="0.7"/><line x1="641.7" y1="237.3" x2="641.7" y2="259.0" stroke="#f0a296" stroke-width="1.2"/><rect x="640.22" y="253.4" width="2.9" height="3.7" fill="#050508"/><line x1="644.9" y1="255.0" x2="644.9" y2="270.0" stroke="#f0a296" stroke-width="1.2"/><rect x="643.47" y="257.1" width="2.9" height="8.9" fill="#050508"/><line x1="648.2" y1="257.0" x2="648.2" y2="276.3" stroke="#7cc3bc" stroke-width="1.2"/><rect x="647.10" y="261.7" width="2.16" height="3.9" fill="#fff" stroke="#2e2e3a" stroke-width="0.7"/><line x1="651.4" y1="256.0" x2="651.4" y2="279.7" stroke="#7cc3bc" stroke-width="1.2"/><rect x="650.35" y="260.4" width="2.16" height="0.6" fill="#fff" stroke="#2e2e3a" stroke-width="0.7"/><line x1="654.7" y1="255.3" x2="654.7" y2="262.5" stroke="#7cc3bc" stroke-width="1.2"/><rect x="653.61" y="258.7" width="2.16" height="1.5" fill="#fff" stroke="#2e2e3a" stroke-width="0.7"/><line x1="657.9" y1="240.2" x2="657.9" y2="260.5" stroke="#7cc3bc" stroke-width="1.2"/><rect x="656.87" y="244.6" width="2.16" height="13.7" fill="#fff" stroke="#2e2e3a" stroke-width="0.7"/><line x1="661.2" y1="227.8" x2="661.2" y2="246.5" stroke="#7cc3bc" stroke-width="1.2"/><rect x="660.12" y="239.3" width="2.16" height="4.9" fill="#fff" stroke="#2e2e3a" stroke-width="0.7"/><line x1="664.5" y1="206.3" x2="664.5" y2="241.5" stroke="#7cc3bc" stroke-width="1.2"/><rect x="663.38" y="210.1" width="2.16" height="29.3" fill="#fff" stroke="#2e2e3a" stroke-width="0.7"/><line x1="667.7" y1="208.0" x2="667.7" y2="222.6" stroke="#f0a296" stroke-width="1.2"/><rect x="666.26" y="210.3" width="2.9" height="1.3" fill="#050508"/><line x1="671.0" y1="202.9" x2="671.0" y2="218.3" stroke="#f0a296" stroke-width="1.2"/><rect x="669.52" y="210.6" width="2.9" height="1.4" fill="#050508"/><line x1="674.2" y1="200.3" x2="674.2" y2="241.5" stroke="#f0a296" stroke-width="1.2"/><rect x="672.78" y="211.5" width="2.9" height="28.3" fill="#050508"/><line x1="677.5" y1="228.6" x2="677.5" y2="268.1" stroke="#f0a296" stroke-width="1.2"/><rect x="676.03" y="239.8" width="2.9" height="19.7" fill="#050508"/><line x1="680.7" y1="243.0" x2="680.7" y2="270.8" stroke="#7cc3bc" stroke-width="1.2"/><rect x="679.66" y="247.7" width="2.16" height="12.1" fill="#fff" stroke="#2e2e3a" stroke-width="0.7"/><line x1="684.0" y1="239.8" x2="684.0" y2="255.0" stroke="#f0a296" stroke-width="1.2"/><rect x="682.54" y="246.9" width="2.9" height="5.9" fill="#050508"/><line x1="687.2" y1="251.0" x2="687.2" y2="266.4" stroke="#f0a296" stroke-width="1.2"/><rect x="685.80" y="253.0" width="2.9" height="10.0" fill="#050508"/><line x1="690.5" y1="261.0" x2="690.5" y2="270.8" stroke="#f0a296" stroke-width="1.2"/><rect x="689.06" y="263.0" width="2.9" height="1.6" fill="#050508"/><line x1="693.8" y1="252.0" x2="693.8" y2="266.5" stroke="#7cc3bc" stroke-width="1.2"/><rect x="692.68" y="255.7" width="2.16" height="8.5" fill="#fff" stroke="#2e2e3a" stroke-width="0.7"/><line x1="697.0" y1="247.7" x2="697.0" y2="268.6" stroke="#f0a296" stroke-width="1.2"/><rect x="695.57" y="255.0" width="2.9" height="8.8" fill="#050508"/><line x1="700.3" y1="214.0" x2="700.3" y2="269.7" stroke="#7cc3bc" stroke-width="1.2"/><rect x="699.19" y="223.0" width="2.16" height="40.6" fill="#fff" stroke="#2e2e3a" stroke-width="0.7"/><line x1="703.5" y1="203.7" x2="703.5" y2="225.5" stroke="#7cc3bc" stroke-width="1.2"/><rect x="702.45" y="221.0" width="2.16" height="2.1" fill="#fff" stroke="#2e2e3a" stroke-width="0.7"/><line x1="706.8" y1="202.9" x2="706.8" y2="222.5" stroke="#7cc3bc" stroke-width="1.2"/><rect x="705.71" y="210.1" width="2.16" height="10.4" fill="#fff" stroke="#2e2e3a" stroke-width="0.7"/><line x1="710.0" y1="206.0" x2="710.0" y2="215.0" stroke="#f0a296" stroke-width="1.2"/><rect x="708.59" y="209.2" width="2.9" height="2.8" fill="#050508"/><line x1="713.3" y1="204.6" x2="713.3" y2="214.0" stroke="#7cc3bc" stroke-width="1.2"/><rect x="712.22" y="208.4" width="2.16" height="3.5" fill="#fff" stroke="#2e2e3a" stroke-width="0.7"/><line x1="716.6" y1="202.9" x2="716.6" y2="225.2" stroke="#f0a296" stroke-width="1.2"/><rect x="715.10" y="208.0" width="2.9" height="11.2" fill="#050508"/><line x1="719.8" y1="210.6" x2="719.8" y2="223.0" stroke="#7cc3bc" stroke-width="1.2"/><rect x="718.73" y="217.0" width="2.16" height="2.6" fill="#fff" stroke="#2e2e3a" stroke-width="0.7"/><line x1="723.1" y1="209.7" x2="723.1" y2="219.5" stroke="#f0a296" stroke-width="1.2"/><rect x="721.62" y="215.8" width="2.9" height="1.3" fill="#050508"/><line x1="726.3" y1="212.5" x2="726.3" y2="219.0" stroke="#7cc3bc" stroke-width="1.2"/><rect x="725.24" y="215.8" width="2.16" height="0.4" fill="#fff" stroke="#2e2e3a" stroke-width="0.7"/><line x1="729.6" y1="202.9" x2="729.6" y2="218.0" stroke="#7cc3bc" stroke-width="1.2"/><rect x="728.50" y="205.0" width="2.16" height="11.2" fill="#fff" stroke="#2e2e3a" stroke-width="0.7"/><line x1="732.8" y1="203.5" x2="732.8" y2="216.0" stroke="#f0a296" stroke-width="1.2"/><rect x="731.38" y="205.1" width="2.9" height="8.9" fill="#050508"/><line x1="736.1" y1="212.0" x2="736.1" y2="252.8" stroke="#f0a296" stroke-width="1.2"/><rect x="734.64" y="214.0" width="2.9" height="31.8" fill="#050508"/><line x1="739.3" y1="244.5" x2="739.3" y2="269.0" stroke="#f0a296" stroke-width="1.2"/><rect x="737.90" y="246.5" width="2.9" height="13.7" fill="#050508"/><line x1="742.6" y1="248.5" x2="742.6" y2="266.0" stroke="#f0a296" stroke-width="1.2"/><rect x="741.15" y="259.8" width="2.9" height="4.0" fill="#050508"/><line x1="745.9" y1="262.0" x2="745.9" y2="303.7" stroke="#f0a296" stroke-width="1.2"/><rect x="744.41" y="263.8" width="2.9" height="25.1" fill="#050508"/><line x1="749.1" y1="266.4" x2="749.1" y2="307.0" stroke="#7cc3bc" stroke-width="1.2"/><rect x="748.03" y="274.5" width="2.16" height="13.8" fill="#fff" stroke="#2e2e3a" stroke-width="0.7"/><line x1="752.4" y1="259.8" x2="752.4" y2="278.6" stroke="#7cc3bc" stroke-width="1.2"/><rect x="751.29" y="269.8" width="2.16" height="4.1" fill="#fff" stroke="#2e2e3a" stroke-width="0.7"/><line x1="755.6" y1="230.5" x2="755.6" y2="314.0" stroke="#7cc3bc" stroke-width="1.2"/><rect x="754.55" y="233.0" width="2.16" height="36.0" fill="#fff" stroke="#2e2e3a" stroke-width="0.7"/><line x1="758.9" y1="207.2" x2="758.9" y2="234.0" stroke="#7cc3bc" stroke-width="1.2"/><rect x="757.80" y="211.9" width="2.16" height="19.9" fill="#fff" stroke="#2e2e3a" stroke-width="0.7"/><line x1="762.1" y1="202.9" x2="762.1" y2="216.0" stroke="#c9c9c9" stroke-width="1.2"/><rect x="760.69" y="211.5" width="2.9" height="2.8" fill="#050508"/></g>
<polyline fill="none" stroke="#0d0d0d" stroke-width="2" stroke-linejoin="round" stroke-linecap="round" points="-3.0,179.5 0.2,178.4 3.5,177.4 6.7,176.0 10.0,174.7 13.3,172.7 16.5,171.3 19.8,170.0 23.0,167.7 26.3,166.9 29.5,164.9 32.8,161.9 36.0,157.5 39.3,153.9 42.6,149.9 45.8,146.6 49.1,144.0 52.3,142.8 55.6,141.5 58.8,139.9 62.1,138.9 65.4,136.4 68.6,134.6 71.9,133.1 75.1,131.7 78.4,132.5 81.6,132.9 84.9,135.9 88.1,138.7 91.4,139.3 94.7,140.3 97.9,140.8 101.2,141.0 104.4,139.3 107.7,137.8 110.9,136.0 114.2,133.7 117.4,131.4 120.7,129.9 124.0,129.5 127.2,129.5 130.5,127.6 133.7,124.7 137.0,122.0 140.2,119.4 143.5,116.8 146.8,114.6 150.0,112.7 153.3,110.9 156.5,109.4 159.8,107.0 163.0,106.4 166.3,105.9 169.5,105.3 172.8,105.3 176.1,105.6 179.3,105.4 182.6,106.5 185.8,108.3 189.1,111.7 192.3,115.4 195.6,119.8 198.8,123.5 202.1,128.9 205.4,133.1 208.6,137.1 211.9,140.1 215.1,142.3 218.4,144.3 221.6,145.1 224.9,146.2 228.2,149.4 231.4,153.4 234.7,156.5 237.9,159.9 241.2,162.4 244.4,164.7 247.7,170.9 250.9,177.4 254.2,183.3 257.5,187.9 260.7,192.5 264.0,197.5 267.2,201.3 270.5,204.8 273.7,208.2 277.0,211.6 280.2,214.4 283.5,217.2 286.8,220.1 290.0,223.8 293.3,229.7 296.5,235.2 299.8,240.5 303.0,245.9 306.3,249.2 309.6,252.2 312.8,254.8 316.1,255.6 319.3,257.9 322.6,260.4 325.8,262.8 329.1,263.1 332.3,262.6 335.6,261.8 338.9,262.2 342.1,262.5 345.4,264.6 348.6,266.4 351.9,267.3 355.1,268.9 358.4,272.4 361.6,274.3 364.9,275.8 368.2,276.2 371.4,276.6 374.7,275.7 377.9,274.7 381.2,273.4 384.4,272.8 387.7,271.7 391.0,274.9 394.2,280.1 397.5,287.0 400.7,292.0 404.0,297.2 407.2,302.8 410.5,309.2 413.7,316.4 417.0,319.0 420.3,323.9 423.5,327.9 426.8,330.9 430.0,333.0 433.3,336.1 436.5,338.0 439.8,340.2 443.1,345.4 446.3,348.2 449.6,351.9 452.8,354.3 456.1,355.5 459.3,357.3 462.6,359.2 465.8,361.8 469.1,362.9 472.4,362.4 475.6,361.8 478.9,360.5 482.1,358.3 485.4,355.3 488.6,351.7 491.9,348.3 495.1,345.0 498.4,341.9 501.7,338.0 504.9,335.5 508.2,334.6 511.4,333.7 514.7,334.4 517.9,332.8 521.2,331.2 524.4,329.5 527.7,327.3 531.0,326.3 534.2,327.0 537.5,328.5 540.7,329.9 544.0,330.2 547.2,331.0 550.5,330.5 553.8,328.7 557.0,325.6 560.3,322.7 563.5,318.6 566.8,315.1 570.0,312.0 573.3,309.8 576.5,307.1 579.8,305.0 583.1,302.4 586.3,300.1 589.6,297.8 592.8,294.8 596.1,292.2 599.3,289.9 602.6,290.0 605.8,289.7 609.1,288.2 612.4,285.1 615.6,282.7 618.9,279.6 622.1,276.7 625.4,274.6 628.6,272.6 631.9,271.3 635.2,271.4 638.4,270.3 641.7,269.6 644.9,269.4 648.2,269.0 651.4,268.5 654.7,267.9 657.9,266.6 661.2,265.1 664.5,262.2 667.7,259.4 671.0,256.9 674.2,255.9 677.5,256.1 680.7,255.7 684.0,255.5 687.2,255.9 690.5,256.4 693.8,256.3 697.0,256.7 700.3,254.9 703.5,253.0 706.8,250.7 710.0,248.6 713.3,246.4 716.6,244.9 719.8,243.4 723.1,242.0 726.3,240.5 729.6,238.6 732.8,237.3 736.1,237.7 739.3,238.9 742.6,240.3 745.9,242.9 749.1,244.6 752.4,245.9 755.6,245.2 758.9,243.4 762.1,241.8"/>
<polyline fill="none" stroke="#ee7215" stroke-width="1.7" stroke-linejoin="round" stroke-linecap="round" points="-3.0,180.0 0.2,176.8 3.5,174.2 6.7,170.7 10.0,167.8 13.3,163.3 16.5,160.6 19.8,158.5 23.0,153.7 26.3,153.6 29.5,150.1 32.8,143.8 36.0,134.1 39.3,127.3 42.6,120.2 45.8,115.4 49.1,112.8 52.3,114.2 55.6,114.9 58.8,114.4 62.1,115.4 65.4,111.8 68.6,110.6 71.9,109.9 75.1,109.6 78.4,115.3 81.6,119.2 84.9,129.8 88.1,138.6 91.4,140.5 94.7,142.9 97.9,144.1 101.2,144.0 104.4,138.8 107.7,134.7 110.9,130.0 114.2,124.4 117.4,119.2 120.7,116.8 124.0,117.8 127.2,119.5 130.5,115.5 133.7,109.2 137.0,103.8 140.2,99.3 143.5,95.1 146.8,92.2 150.0,90.1 153.3,88.5 156.5,87.7 159.8,84.1 163.0,85.9 166.3,87.6 169.5,88.7 172.8,91.5 176.1,94.3 179.3,95.6 182.6,100.0 185.8,106.3 189.1,116.3 192.3,126.1 195.6,137.0 198.8,144.8 202.1,156.9 205.4,164.5 208.6,171.0 211.9,174.3 215.1,175.3 218.4,176.1 221.6,173.4 224.9,172.1 228.2,177.4 231.4,184.5 234.7,188.4 237.9,193.1 241.2,195.2 244.4,196.8 247.7,209.4 250.9,221.9 254.2,232.0 257.5,237.6 260.7,243.1 264.0,249.3 267.2,252.4 270.5,254.4 273.7,256.3 277.0,258.8 280.2,259.5 283.5,260.4 286.8,262.0 290.0,266.1 293.3,276.3 296.5,284.9 299.8,292.4 303.0,299.8 306.3,300.7 309.6,301.3 312.8,301.2 316.1,296.5 319.3,296.8 322.6,297.8 325.8,298.9 329.1,294.1 332.3,288.1 335.6,281.9 338.9,279.9 342.1,278.1 345.4,281.4 348.6,284.2 351.9,283.8 355.1,285.8 358.4,293.1 361.6,295.6 364.9,296.5 368.2,294.3 371.4,292.7 374.7,287.6 377.9,283.0 381.2,278.2 384.4,275.7 387.7,272.1 391.0,281.1 394.2,295.0 397.5,312.3 400.7,322.5 404.0,332.8 407.2,343.2 410.5,355.3 413.7,368.7 417.0,367.9 420.3,374.3 423.5,378.0 426.8,378.9 430.0,377.4 433.3,379.6 436.5,378.1 439.8,378.1 443.1,387.1 446.3,388.7 449.6,393.1 452.8,393.7 456.1,390.9 459.3,390.6 462.6,391.0 465.8,393.4 469.1,391.7 472.4,385.7 475.6,380.6 478.9,373.8 482.1,365.5 485.4,356.0 488.6,345.6 491.9,336.9 495.1,329.1 498.4,322.9 501.7,314.7 504.9,311.2 508.2,312.2 511.4,313.4 514.7,318.2 517.9,316.4 521.2,314.4 524.4,311.9 527.7,308.6 531.0,308.5 534.2,313.3 537.5,319.6 540.7,324.8 544.0,326.5 547.2,329.3 550.5,328.3 553.8,323.6 557.0,315.4 560.3,308.8 563.5,299.4 566.8,292.1 570.0,287.0 573.3,284.6 576.5,280.9 579.8,278.8 583.1,275.5 586.3,273.1 589.6,270.7 592.8,266.3 596.1,263.2 599.3,261.0 602.6,265.8 605.8,268.7 609.1,267.8 612.4,262.1 615.6,258.9 618.9,253.6 622.1,249.3 625.4,247.5 628.6,246.1 631.9,246.6 635.2,250.4 638.4,250.7 641.7,251.6 644.9,253.9 648.2,255.0 651.4,255.8 654.7,256.2 657.9,254.3 661.2,251.9 664.5,245.4 667.7,240.2 671.0,235.9 674.2,236.5 677.5,240.0 680.7,241.2 684.0,242.9 687.2,246.0 690.5,248.9 693.8,249.9 697.0,252.0 700.3,247.5 703.5,243.4 706.8,238.2 710.0,234.1 713.3,230.1 716.6,228.4 719.8,226.6 723.1,225.2 726.3,223.7 729.6,220.7 732.8,219.7 736.1,223.7 739.3,229.3 742.6,234.6 745.9,243.0 749.1,247.8 752.4,251.1 755.6,248.2 758.9,242.6 762.1,238.2"/>
<rect x="205.4" y="148.8" width="696.1" height="17.7" fill="rgba(36,98,214,0.165)"/>
<line x1="205.9" y1="148.8" x2="205.9" y2="166.5" stroke="rgba(60,90,235,0.45)" stroke-width="1" stroke-dasharray="2 2"/>
<line x1="205.4" y1="148.8" x2="901.5" y2="148.8" stroke="rgba(50,100,230,0.11)" stroke-width="1.4"/>
<line x1="205.4" y1="166.5" x2="901.5" y2="166.5" stroke="rgba(50,100,230,0.11)" stroke-width="1.4"/>
<text x="897.5" y="151.7" font-size="7.6" fill="#c3d1ee" text-anchor="end" textLength="26.4" lengthAdjust="spacingAndGlyphs">(110.660)</text>
<text x="897.5" y="169.4" font-size="7.6" fill="#c3d1ee" text-anchor="end" textLength="26.4" lengthAdjust="spacingAndGlyphs">(110.337)</text>
<rect x="228.8" y="188.2" width="672.7" height="25.7" fill="rgba(36,98,214,0.165)"/>
<line x1="229.3" y1="188.2" x2="229.3" y2="213.9" stroke="rgba(60,90,235,0.45)" stroke-width="1" stroke-dasharray="2 2"/>
<line x1="228.8" y1="188.2" x2="901.5" y2="188.2" stroke="rgba(50,100,230,0.11)" stroke-width="1.4"/>
<line x1="228.8" y1="213.9" x2="901.5" y2="213.9" stroke="rgba(50,100,230,0.11)" stroke-width="1.4"/>
<text x="897.5" y="191.1" font-size="7.6" fill="#c3d1ee" text-anchor="end" textLength="26.4" lengthAdjust="spacingAndGlyphs">(109.940)</text>
<text x="897.5" y="216.8" font-size="7.6" fill="#c3d1ee" text-anchor="end" textLength="26.4" lengthAdjust="spacingAndGlyphs">(109.471)</text>
<rect x="527.3" y="341.4" width="374.2" height="35.6" fill="rgba(36,98,214,0.165)"/>
<line x1="527.8" y1="341.4" x2="527.8" y2="377.0" stroke="rgba(60,90,235,0.45)" stroke-width="1" stroke-dasharray="2 2"/>
<line x1="527.3" y1="341.4" x2="901.5" y2="341.4" stroke="rgba(50,100,230,0.11)" stroke-width="1.4"/>
<line x1="527.3" y1="377.0" x2="901.5" y2="377.0" stroke="rgba(50,100,230,0.11)" stroke-width="1.4"/>
<text x="897.5" y="344.3" font-size="7.6" fill="#c3d1ee" text-anchor="end" textLength="26.4" lengthAdjust="spacingAndGlyphs">(107.143)</text>
<text x="897.5" y="379.9" font-size="7.6" fill="#c3d1ee" text-anchor="end" textLength="26.4" lengthAdjust="spacingAndGlyphs">(106.492)</text>
<rect x="450.0" y="383.7" width="451.5" height="33.2" fill="rgba(36,98,214,0.165)"/>
<line x1="450.5" y1="383.7" x2="450.5" y2="416.9" stroke="rgba(60,90,235,0.45)" stroke-width="1" stroke-dasharray="2 2"/>
<line x1="450.0" y1="383.7" x2="901.5" y2="383.7" stroke="rgba(50,100,230,0.11)" stroke-width="1.4"/>
<line x1="450.0" y1="416.9" x2="901.5" y2="416.9" stroke="rgba(50,100,230,0.11)" stroke-width="1.4"/>
<text x="897.5" y="386.6" font-size="7.6" fill="#c3d1ee" text-anchor="end" textLength="26.4" lengthAdjust="spacingAndGlyphs">(106.371)</text>
<text x="897.5" y="419.8" font-size="7.6" fill="#c3d1ee" text-anchor="end" textLength="26.4" lengthAdjust="spacingAndGlyphs">(105.764)</text>
<line x1="-2" y1="16.85" x2="846.9" y2="250.72" stroke="#2d8235" stroke-width="2.9"/>
<line x1="-2" y1="347.15" x2="846.9" y2="581.02" stroke="#2d8235" stroke-width="2.9"/>
<line x1="191.9" y1="146.00" x2="901.5" y2="146.00" stroke="#0808ee" stroke-width="2.1"/>
<line x1="220.8" y1="201.75" x2="901.5" y2="201.75" stroke="#0808ee" stroke-width="2.1"/>
<line x1="185.2" y1="236.45" x2="901.5" y2="236.45" stroke="#0808ee" stroke-width="2.1"/>
</g>
<g opacity="0.99">
<line x1="0" y1="531.7" x2="901.5" y2="531.7" stroke="#6a6e7e" stroke-width="1.1"/>
<line x1="901.5" y1="0" x2="901.5" y2="550" stroke="#6a6e7e" stroke-width="1.1"/>
<line x1="901.5" y1="20.7" x2="904.4" y2="20.7" stroke="#5f6373" stroke-width="1"/>
<text x="906" y="23.81" font-size="8.6" fill="#454853" textLength="22" lengthAdjust="spacingAndGlyphs">113.000</text>
<line x1="901.5" y1="48.0" x2="904.4" y2="48.0" stroke="#5f6373" stroke-width="1"/>
<text x="906" y="51.19" font-size="8.6" fill="#454853" textLength="22" lengthAdjust="spacingAndGlyphs">112.500</text>
<line x1="901.5" y1="75.4" x2="904.4" y2="75.4" stroke="#5f6373" stroke-width="1"/>
<text x="906" y="78.57" font-size="8.6" fill="#454853" textLength="22" lengthAdjust="spacingAndGlyphs">112.000</text>
<line x1="901.5" y1="102.8" x2="904.4" y2="102.8" stroke="#5f6373" stroke-width="1"/>
<text x="906" y="105.95" font-size="8.6" fill="#454853" textLength="22" lengthAdjust="spacingAndGlyphs">111.500</text>
<line x1="901.5" y1="130.2" x2="904.4" y2="130.2" stroke="#5f6373" stroke-width="1"/>
<text x="906" y="133.33" font-size="8.6" fill="#454853" textLength="22" lengthAdjust="spacingAndGlyphs">111.000</text>
<line x1="901.5" y1="157.6" x2="904.4" y2="157.6" stroke="#5f6373" stroke-width="1"/>
<text x="906" y="160.71" font-size="8.6" fill="#454853" textLength="22" lengthAdjust="spacingAndGlyphs">110.500</text>
<line x1="901.5" y1="184.9" x2="904.4" y2="184.9" stroke="#5f6373" stroke-width="1"/>
<text x="906" y="188.09" font-size="8.6" fill="#454853" textLength="22" lengthAdjust="spacingAndGlyphs">110.000</text>
<line x1="901.5" y1="212.3" x2="904.4" y2="212.3" stroke="#5f6373" stroke-width="1"/>
<text x="906" y="215.47" font-size="8.6" fill="#454853" textLength="22" lengthAdjust="spacingAndGlyphs">109.500</text>
<line x1="901.5" y1="239.7" x2="904.4" y2="239.7" stroke="#5f6373" stroke-width="1"/>
<text x="906" y="242.85" font-size="8.6" fill="#454853" textLength="22" lengthAdjust="spacingAndGlyphs">109.000</text>
<line x1="901.5" y1="267.1" x2="904.4" y2="267.1" stroke="#5f6373" stroke-width="1"/>
<text x="906" y="270.23" font-size="8.6" fill="#454853" textLength="22" lengthAdjust="spacingAndGlyphs">108.500</text>
<line x1="901.5" y1="294.5" x2="904.4" y2="294.5" stroke="#5f6373" stroke-width="1"/>
<text x="906" y="297.61" font-size="8.6" fill="#454853" textLength="22" lengthAdjust="spacingAndGlyphs">108.000</text>
<line x1="901.5" y1="321.8" x2="904.4" y2="321.8" stroke="#5f6373" stroke-width="1"/>
<text x="906" y="324.99" font-size="8.6" fill="#454853" textLength="22" lengthAdjust="spacingAndGlyphs">107.500</text>
<line x1="901.5" y1="349.2" x2="904.4" y2="349.2" stroke="#5f6373" stroke-width="1"/>
<text x="906" y="352.37" font-size="8.6" fill="#454853" textLength="22" lengthAdjust="spacingAndGlyphs">107.000</text>
<line x1="901.5" y1="376.6" x2="904.4" y2="376.6" stroke="#5f6373" stroke-width="1"/>
<text x="906" y="379.75" font-size="8.6" fill="#454853" textLength="22" lengthAdjust="spacingAndGlyphs">106.500</text>
<line x1="901.5" y1="404.0" x2="904.4" y2="404.0" stroke="#5f6373" stroke-width="1"/>
<text x="906" y="407.13" font-size="8.6" fill="#454853" textLength="22" lengthAdjust="spacingAndGlyphs">106.000</text>
<line x1="901.5" y1="431.4" x2="904.4" y2="431.4" stroke="#5f6373" stroke-width="1"/>
<text x="906" y="434.51" font-size="8.6" fill="#454853" textLength="22" lengthAdjust="spacingAndGlyphs">105.500</text>
<line x1="901.5" y1="458.7" x2="904.4" y2="458.7" stroke="#5f6373" stroke-width="1"/>
<text x="906" y="461.89" font-size="8.6" fill="#454853" textLength="22" lengthAdjust="spacingAndGlyphs">105.000</text>
<line x1="901.5" y1="486.1" x2="904.4" y2="486.1" stroke="#5f6373" stroke-width="1"/>
<text x="906" y="489.27" font-size="8.6" fill="#454853" textLength="22" lengthAdjust="spacingAndGlyphs">104.500</text>
<line x1="901.5" y1="513.5" x2="904.4" y2="513.5" stroke="#5f6373" stroke-width="1"/>
<text x="906" y="516.65" font-size="8.6" fill="#454853" textLength="22" lengthAdjust="spacingAndGlyphs">104.000</text>
<line x1="36.3" y1="531.7" x2="36.3" y2="534.2" stroke="#555b66" stroke-width="1"/>
<text x="31.3" y="545" font-size="7.8" fill="#454853" textLength="9.9" lengthAdjust="spacingAndGlyphs">Mar</text>
<line x1="104.3" y1="531.7" x2="104.3" y2="534.2" stroke="#555b66" stroke-width="1"/>
<text x="99.2" y="545" font-size="7.8" fill="#454853" textLength="10.1" lengthAdjust="spacingAndGlyphs">Apr</text>
<line x1="176.4" y1="531.7" x2="176.4" y2="534.2" stroke="#555b66" stroke-width="1"/>
<text x="170.8" y="545" font-size="7.8" fill="#454853" textLength="11.3" lengthAdjust="spacingAndGlyphs">May</text>
<line x1="251.4" y1="531.7" x2="251.4" y2="534.2" stroke="#555b66" stroke-width="1"/>
<text x="246.7" y="545" font-size="7.8" fill="#454853" textLength="9.5" lengthAdjust="spacingAndGlyphs">Jun</text>
<line x1="316.5" y1="531.7" x2="316.5" y2="534.2" stroke="#555b66" stroke-width="1"/>
<text x="312.4" y="545" font-size="7.8" fill="#454853" textLength="8.2" lengthAdjust="spacingAndGlyphs">Jul</text>
<line x1="391.5" y1="531.7" x2="391.5" y2="534.2" stroke="#555b66" stroke-width="1"/>
<text x="386.5" y="545" font-size="7.8" fill="#454853" textLength="10.0" lengthAdjust="spacingAndGlyphs">Aug</text>
<line x1="463.1" y1="531.7" x2="463.1" y2="534.2" stroke="#555b66" stroke-width="1"/>
<text x="458.0" y="545" font-size="7.8" fill="#454853" textLength="10.3" lengthAdjust="spacingAndGlyphs">Sep</text>
<line x1="531.3" y1="531.7" x2="531.3" y2="534.2" stroke="#555b66" stroke-width="1"/>
<text x="526.4" y="545" font-size="7.8" fill="#454853" textLength="9.8" lengthAdjust="spacingAndGlyphs">Oct</text>
<line x1="606.3" y1="531.7" x2="606.3" y2="534.2" stroke="#555b66" stroke-width="1"/>
<text x="601.4" y="545" font-size="7.8" fill="#454853" textLength="9.8" lengthAdjust="spacingAndGlyphs">Nov</text>
<line x1="674.3" y1="531.7" x2="674.3" y2="534.2" stroke="#555b66" stroke-width="1"/>
<text x="669.4" y="545" font-size="7.8" fill="#454853" textLength="9.8" lengthAdjust="spacingAndGlyphs">Dec</text>
<line x1="743.0" y1="531.7" x2="743.0" y2="534.2" stroke="#555b66" stroke-width="1"/>
<text x="735.9" y="545" font-size="7.8" fill="#454853" textLength="14.2" lengthAdjust="spacingAndGlyphs">2020</text>
<line x1="814.3" y1="531.7" x2="814.3" y2="534.2" stroke="#555b66" stroke-width="1"/>
<text x="809.4" y="545" font-size="7.8" fill="#454853" textLength="9.8" lengthAdjust="spacingAndGlyphs">Feb</text>
<line x1="879.7" y1="531.7" x2="879.7" y2="534.2" stroke="#555b66" stroke-width="1"/>
<text x="874.8" y="545" font-size="7.8" fill="#454853" textLength="9.9" lengthAdjust="spacingAndGlyphs" font-style="italic">Mar</text>
<rect x="901.1" y="139.9" width="30.9" height="11.2" fill="#0505f7"/>
<line x1="902.1" y1="146.0" x2="903.9" y2="146.0" stroke="#fff" stroke-width="0.9" opacity="0.55"/>
<text x="906" y="147.9" font-size="8.6" font-weight="bold" fill="#fff" textLength="22" lengthAdjust="spacingAndGlyphs">110.712</text>
<rect x="901.1" y="196.0" width="30.9" height="11.2" fill="#0505f7"/>
<line x1="902.1" y1="201.8" x2="903.9" y2="201.8" stroke="#fff" stroke-width="0.9" opacity="0.55"/>
<text x="906" y="204.0" font-size="8.6" font-weight="bold" fill="#fff" textLength="22" lengthAdjust="spacingAndGlyphs">109.698</text>
<rect x="901.1" y="230.3" width="30.9" height="11.2" fill="#0505f7"/>
<line x1="902.1" y1="236.4" x2="903.9" y2="236.4" stroke="#fff" stroke-width="0.9" opacity="0.55"/>
<text x="906" y="238.3" font-size="8.6" font-weight="bold" fill="#fff" textLength="22" lengthAdjust="spacingAndGlyphs">109.067</text>
<rect x="901.1" y="207.8" width="30.9" height="10.9" fill="#000"/>
<line x1="902.1" y1="214.0" x2="903.9" y2="214.0" stroke="#fff" stroke-width="0.9" opacity="0.55"/>
<text x="906" y="215.8" font-size="8.6" font-weight="bold" fill="#fff" textLength="22" lengthAdjust="spacingAndGlyphs">109.470</text>
</g>
</svg>
</body></html>
